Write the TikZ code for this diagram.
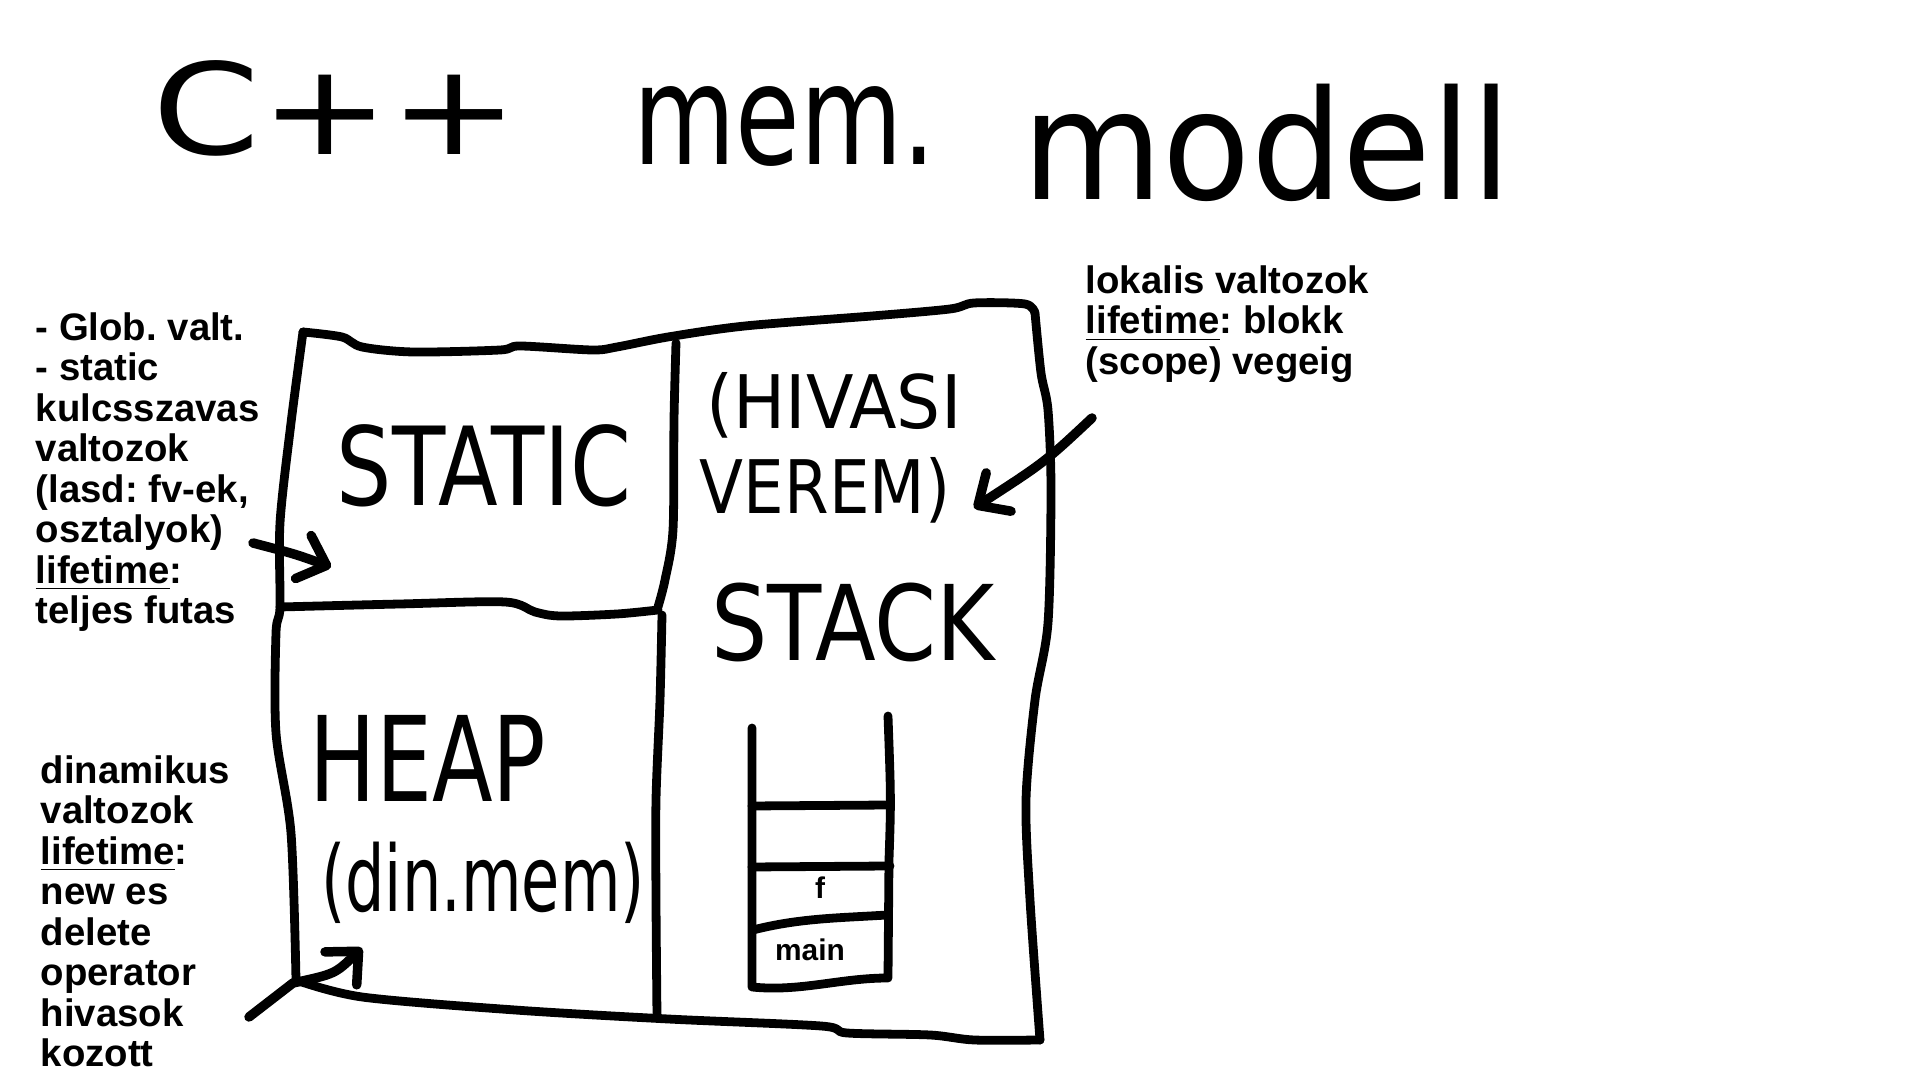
\documentclass[tikz,border=0pt]{standalone}
\usepackage{graphicx}
\usepackage{fontspec}
\setmainfont{Liberation Sans}
\newfontfamily\handfont{DejaVu Sans}
\usetikzlibrary{arrows.meta}
\frenchspacing

\begin{document}
\begin{tikzpicture}[
    x=0.01cm, y=-0.01cm,
    line cap=round,
    line join=round,
    wall_style/.style={
        draw=black,
        line width=2.5pt
        },
    hand_style/.style={
        inner sep=0pt,
        anchor=base
        },
    note_style/.style={
        inner sep=0pt,
        anchor=north west,
        align=left,
        font=\bfseries\fontsize{10.9}{11.5}\selectfont
        },
    frame_style/.style={
        inner sep=0pt,
        font=\bfseries\fontsize{8.5}{10}\selectfont
        },
    arrow_style/.style={
        draw=black,
        line width=2.7pt,
        -{Straight Barb[length=7pt, width=13pt, round]}
        }]

    \fill[white] (0,0) rectangle (1920,1080);

    % title
    \node[hand_style, font=\handfont\fontsize{36}{36}\selectfont] (title_cpp) at (336,155) {\scalebox{1.22}[1]{C++}};
    \node[hand_style, font=\handfont\fontsize{36}{36}\selectfont] (title_mem) at (785,165) {\scalebox{0.83}[1.1]{mem.}};
    \node[hand_style, font=\handfont\fontsize{36}{36}\selectfont] (title_modell) at (1267,200) {\scalebox{1.14}[1.2]{modell}};

    % memory box
    \draw[wall_style] plot[smooth, tension=0.5] coordinates {(303,332) (342,337) (362,347) (413,352) (500,350) (520,346) (592,350) (617,347) (668,337) (745,326) (872,316) (950,309) (974,303) (1025,304) (1035,313)};
    \draw[wall_style] plot[smooth, tension=0.5] coordinates {(1035,313) (1041,373) (1048,410) (1051,490) (1048,623) (1035,700) (1026,800) (1030,900) (1040,1040)};
    \draw[wall_style] plot[smooth, tension=0.5] coordinates {(1040,1040) (974,1040) (930,1035) (847,1033) (821,1026) (668,1019) (515,1010) (362,997) (296,980)};
    \draw[wall_style] plot[smooth, tension=0.5] coordinates {(296,980) (291,833) (276,733) (276,633) (280,607) (280,523) (291,423) (303,332)};
    \draw[wall_style] plot[smooth, tension=0.5] coordinates {(676,343) (674,420) (673,530) (665,580) (658,607)};
    \draw[wall_style] plot[smooth, tension=0.5] coordinates {(280,607) (400,604) (505,602) (535,612) (560,616) (617,614) (658,610)};
    \draw[wall_style] plot[smooth, tension=0.5] coordinates {(662,615) (660,700) (656,800) (656,900) (657,1017)};

    % region labels
    \node[hand_style, font=\handfont\fontsize{31}{31}\selectfont] (static_lbl) at (484,506) {\scalebox{0.80}[1]{STATIC}};
    \node[hand_style, font=\handfont\fontsize{21}{21}\selectfont] (verem_top) at (834,429) {\scalebox{0.94}[1]{(HIVASI}};
    \node[hand_style, font=\handfont\fontsize{21}{21}\selectfont] (verem_bot) at (825,514) {\scalebox{0.87}[1]{VEREM)}};
    \node[hand_style, font=\handfont\fontsize{29.7}{30}\selectfont] (stack_lbl) at (853,661) {\scalebox{0.85}[1]{STACK}};
    \node[hand_style, font=\handfont\fontsize{33.6}{34}\selectfont] (heap_lbl) at (428,802) {\scalebox{0.75}[1]{HEAP}};
    \node[hand_style, font=\handfont\fontsize{26}{26}\selectfont] (heap_sub) at (483,912) {\scalebox{0.68}[1]{(din.mem)}};

    % call stack frames
    \draw[wall_style] (752,728) -- (752,987) .. controls (800,992) and (840,978) .. (888,978) -- (889,860) .. controls (891,800) .. (888,716);
    \draw[wall_style] (752,806) -- (890,805);
    \draw[wall_style] (752,867) -- (890,866);
    \draw[wall_style] (753,930) .. controls (800,918) and (840,918) .. (887,915);
    \node[frame_style] (frame_f) at (820,888) {f};
    \node[frame_style] (frame_main) at (810,950) {main};

    % notes
    \node[note_style] (static_note) at (35,312) {- Glob. valt.\\- static\\kulcsszavas\\valtozok\\(lasd: fv-ek,\\osztalyok)\\\underline{lifetime}:\\teljes futas};
    \node[note_style] (heap_note) at (40,755) {dinamikus\\valtozok\\\underline{lifetime}:\\new es\\delete\\operator\\hivasok\\kozott};
    \node[note_style] (stack_note) at (1085,265) {lokalis valtozok\\\underline{lifetime}: blokk\\(scope) vegeig};

    % arrows
    \coordinate (static_from) at (253,543);
    \coordinate (static_to) at (331,567);
    \coordinate (heap_from) at (249,1017);
    \coordinate (heap_bend) at (293,983);
    \coordinate (heap_to) at (362,948);
    \coordinate (stack_from) at (1092,418);
    \coordinate (stack_to) at (974,508);

    \draw[arrow_style] (static_from) .. controls (295,554) .. (static_to);
    \draw[arrow_style] (heap_from) -- (heap_bend) .. controls (335,974) .. (heap_to);
    \draw[arrow_style] (stack_from) .. controls (1045,462) .. (stack_to);
\end{tikzpicture}
\end{document}
